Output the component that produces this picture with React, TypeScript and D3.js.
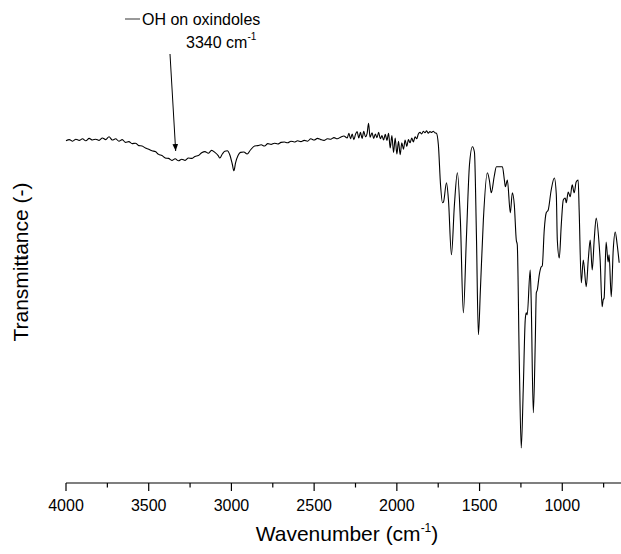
import React from "react";
import * as d3 from "d3";

// Spectrum: [wavenumber (cm-1), transmittance (arb.)]
const baselineSpectrum: [number, number][] = [
  [4000, 86.3], [3980, 86.6], [3960, 86.2], [3940, 86.7], [3920, 86.4], [3900, 86.8],
  [3880, 86.3], [3860, 86.9], [3840, 86.5], [3820, 86.7], [3800, 86.4], [3780, 87.0],
  [3760, 86.6], [3740, 87.3], [3720, 86.5], [3700, 86.8], [3680, 86.2], [3660, 86.6],
  [3640, 85.9], [3620, 86.1], [3600, 85.6], [3580, 85.7], [3560, 85.1], [3540, 85.0],
  [3520, 84.5], [3500, 84.2], [3480, 83.8], [3460, 83.6], [3440, 82.9], [3420, 82.6],
  [3400, 82.0], [3380, 81.9], [3360, 81.4], [3340, 81.8], [3320, 81.3], [3300, 81.7],
  [3280, 81.4], [3260, 82.0], [3240, 81.9], [3220, 82.4], [3200, 82.6], [3180, 83.3],
  [3160, 83.6], [3140, 83.2], [3120, 83.9], [3100, 83.4], [3080, 82.6], [3070, 82.0],
  [3055, 83.0], [3040, 83.7], [3025, 83.8], [3010, 82.8], [2995, 80.5], [2985, 78.8],
  [2975, 80.8], [2960, 82.6], [2945, 83.4], [2925, 83.5], [2905, 83.0], [2885, 84.0],
  [2860, 85.0], [2840, 85.1], [2820, 85.3], [2800, 85.0], [2780, 85.6], [2760, 85.4],
  [2740, 85.7], [2720, 85.5], [2700, 85.9], [2680, 86.0], [2660, 85.8], [2640, 86.2],
  [2620, 86.0], [2600, 86.3], [2580, 86.1], [2560, 86.4], [2540, 86.2], [2520, 86.8],
  [2500, 86.5], [2480, 86.9], [2460, 86.6], [2440, 86.4], [2420, 86.8], [2400, 86.7],
  [2380, 87.1], [2360, 86.8], [2340, 87.2], [2320, 87.5], [2300, 87.0], [2290, 88.2],
  [2280, 86.8], [2270, 88.0], [2260, 86.6], [2250, 87.9], [2240, 88.6], [2230, 87.0],
  [2220, 88.4], [2210, 86.9], [2200, 88.7], [2190, 87.3], [2180, 88.1], [2171, 90.7],
  [2162, 87.2], [2150, 88.3], [2140, 86.9], [2130, 88.0], [2120, 87.1], [2110, 88.4],
  [2100, 86.8], [2090, 87.6], [2080, 86.5], [2070, 87.9], [2060, 86.4], [2050, 88.2],
  [2040, 84.5], [2030, 87.6], [2020, 83.4], [2010, 87.0], [2000, 83.0], [1990, 86.2],
  [1980, 82.8], [1970, 85.8], [1960, 84.2], [1950, 86.5], [1940, 84.9], [1930, 86.6],
  [1920, 85.8], [1910, 87.0], [1900, 86.0], [1890, 87.3], [1880, 86.8], [1870, 88.0],
  [1860, 88.4], [1850, 88.0], [1840, 88.7], [1830, 88.3], [1820, 88.8], [1810, 88.2],
  [1800, 88.6], [1790, 88.4], [1780, 88.7], [1770, 88.3],
];

const fingerprintSpectrum: [number, number][] = [
  [1761, 88.2], [1749, 85.3], [1736, 75.3], [1724, 70.8], [1718, 71.0], [1700, 75.8],
  [1688, 71.5], [1670, 57.8], [1652, 70.3], [1634, 78.3], [1616, 66.5], [1598, 43.3],
  [1580, 61.5], [1561, 80.3], [1543, 84.8], [1531, 83.5], [1519, 62.8], [1507, 37.8],
  [1495, 49.0], [1477, 66.5], [1453, 78.3], [1441, 76.5], [1429, 73.3], [1411, 77.5],
  [1398, 79.8], [1362, 79.8], [1350, 76.5], [1344, 74.8], [1332, 76.5], [1314, 68.3],
  [1302, 73.3], [1290, 70.3], [1278, 61.5], [1272, 60.3], [1260, 31.5], [1248, 9.5],
  [1236, 24.0], [1224, 41.5], [1218, 43.3], [1212, 42.8], [1194, 54.0], [1188, 46.5],
  [1175, 18.3], [1163, 36.5], [1157, 48.3], [1151, 49.0], [1139, 52.8], [1127, 54.8],
  [1121, 55.0], [1109, 64.0], [1097, 68.3], [1085, 69.0], [1067, 74.0], [1048, 77.0],
  [1036, 72.8], [1030, 61.5], [1018, 57.0], [1006, 65.3], [994, 71.5], [982, 72.0],
  [976, 70.8], [964, 73.5], [952, 72.3], [940, 75.3], [928, 73.3], [916, 76.0],
  [904, 76.5], [898, 69.0], [885, 50.8], [873, 56.5], [855, 49.8], [843, 56.5],
  [831, 61.5], [819, 54.0], [807, 61.5], [795, 67.0], [777, 60.3], [771, 56.5],
  [759, 44.8], [753, 46.5], [747, 47.0], [735, 61.0], [723, 56.0], [717, 57.8],
  [704, 47.3], [692, 59.0], [680, 63.5], [668, 60.3], [656, 55.8],
];

const majorTicks = [4000, 3500, 3000, 2500, 2000, 1500, 1000];
const minorTicks = [3750, 3250, 2750, 2250, 1750, 1250, 750];

const xLabel = "Wavenumber (cm";
const yLabel = "Transmittance (-)";
const annotationLabel = "OH on oxindoles";
const annotationValue = "3340 cm";
const annotationWn = 3340;

const W = 621;
const H = 554;
const FONT = "'Liberation Sans', Arial, Helvetica, sans-serif";

export default function App() {
  const x = d3.scaleLinear().domain([4000, 645]).range([66, 621]);
  const y = d3.scaleLinear().domain([0, 100]).range([486, 86]);
  const axisY = 483;

  const data = [...baselineSpectrum, ...fingerprintSpectrum];
  const line = d3
    .line<[number, number]>()
    .x((d) => x(d[0]))
    .y((d) => y(d[1]))
    .curve(d3.curveMonotoneX);

  const ax = x(annotationWn) + 0.5;

  return (
    <div style={{ position: "absolute", left: 0, top: 0 }}>
      <svg width={W} height={H} style={{ display: "block", background: "#fff" }} fontFamily={FONT}>
        <defs>
          <marker id="arrowHead" viewBox="0 0 10 10" refX="10" refY="5" markerWidth="7" markerHeight="7" orient="auto" markerUnits="userSpaceOnUse">
            <path d="M0,1 L10,5 L0,9 Z" fill="#000" />
          </marker>
        </defs>

        {/* spectrum */}
        <path d={line(data) || ""} fill="none" stroke="#000" strokeWidth={1.1} strokeLinejoin="round" />

        {/* x axis */}
        <line x1={x(4000)} x2={W} y1={axisY} y2={axisY} stroke="#000" strokeWidth={1.2} />
        {majorTicks.map((t) => (
          <g key={"M" + t}>
            <line x1={x(t)} x2={x(t)} y1={axisY} y2={axisY + 8} stroke="#000" strokeWidth={1.2} />
            <text x={x(t)} y={511} textAnchor="middle" fontSize={16} fill="#000">
              {t}
            </text>
          </g>
        ))}
        {minorTicks.map((t) => (
          <line key={"m" + t} x1={x(t)} x2={x(t)} y1={axisY} y2={axisY + 4.5} stroke="#000" strokeWidth={1.2} />
        ))}

        {/* x title */}
        <text x={347} y={541} textAnchor="middle" fontSize={21} fill="#000">
          {xLabel}
          <tspan fontSize={12} dy={-9}>-1</tspan>
          <tspan dy={9}>)</tspan>
        </text>

        {/* y title */}
        <text transform="translate(28,262) rotate(-90)" textAnchor="middle" fontSize={21} fill="#000">
          {yLabel}
        </text>
        <line x1={21} x2={27} y1={257} y2={257} stroke="#000" strokeWidth={1} />

        {/* annotation */}
        <line x1={125} x2={140} y1={19} y2={19} stroke="#555" strokeWidth={1.2} />
        <text x={142} y={25} fontSize={16} fill="#000">{annotationLabel}</text>
        <text x={186} y={48} fontSize={16} fill="#000">
          {annotationValue}
          <tspan fontSize={10} dy={-8}>-1</tspan>
        </text>
        <line x1={170} y1={54} x2={ax} y2={151} stroke="#000" strokeWidth={1} markerEnd="url(#arrowHead)" />
      </svg>
    </div>
  );
}
